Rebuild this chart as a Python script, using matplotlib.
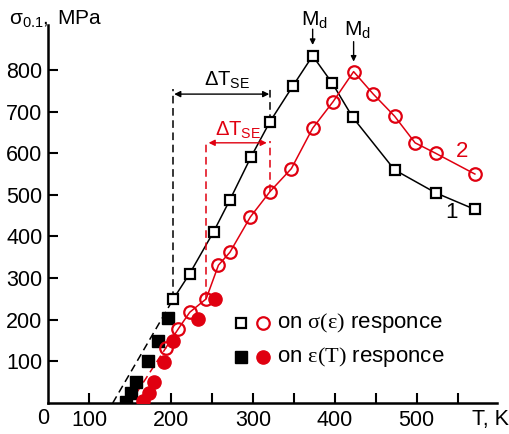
import matplotlib
matplotlib.use("Agg")
import matplotlib.pyplot as plt
from matplotlib.ticker import FixedLocator

plt.rcParams['font.family'] = ['Liberation Sans', 'DejaVu Sans']
plt.rcParams['mathtext.fontset'] = 'custom'
plt.rcParams['mathtext.rm'] = 'Liberation Serif'
plt.rcParams['mathtext.it'] = 'Liberation Serif:italic'
plt.rcParams['mathtext.sf'] = 'Liberation Sans'

RED = '#e00010'

# curve 1 (black open squares, sigma(eps) response)
T1 = [203, 223, 252, 272, 298, 321, 349, 373, 397, 422, 473, 523, 571]
s1 = [250, 311, 411, 488, 592, 676, 762, 834, 768, 686, 560, 505, 465]
# curve 2 (red open circles, sigma(eps) response)
T2 = [194, 209, 223, 243, 258, 272, 297, 321, 347, 373, 398, 423, 447, 473, 498, 523, 571]
s2 = [133, 178, 218, 250, 331, 362, 447, 508, 563, 660, 724, 796, 742, 689, 625, 600, 550]
# filled symbols (eps(T) response)
T1f = [145, 151, 157, 172, 184, 197]
s1f = [3, 23, 50, 101, 150, 205]
T2f = [166, 173, 179, 191, 203, 233, 254]
s2f = [5, 25, 50, 99, 150, 201, 250]
# extrapolated zero-stress temperatures
T0_1 = 129
T0_2 = 150
# Delta T_SE bounds
dT1 = [203, 321]
dT2 = [243, 321]

xticks_major = [100, 200, 300, 400, 500]
xtick_labels = ['100', '200', '300', '400', '500']
xticks_minor = [150, 250, 350, 450, 550]
yticks = [100, 200, 300, 400, 500, 600, 700, 800]

fig = plt.figure(figsize=(5.10, 4.34), dpi=100)
ax = fig.add_axes([48/510, 1-403/434, (497-48)/510, (403-25)/434])
ax.set_xlim(50, 598)
ax.set_ylim(0, 908)

for sp in ['top', 'right']:
    ax.spines[sp].set_visible(False)
for sp in ['left', 'bottom']:
    ax.spines[sp].set_linewidth(1.8)

ax.xaxis.set_major_locator(FixedLocator(xticks_major))
ax.set_xticklabels(xtick_labels)
ax.xaxis.set_minor_locator(FixedLocator(xticks_minor))
ax.set_yticks(yticks)
ax.set_yticklabels([str(v) for v in yticks])
ax.tick_params(which='both', direction='in', length=7, width=1.5, labelsize=15.5)
ax.tick_params(axis='x', pad=5)
ax.tick_params(axis='y', pad=4)

# extrapolation dashed lines
ax.plot([T0_1, T1[0]], [0, s1[0]], color='black', lw=1.1, ls=(0, (5, 3)), zorder=2)
ax.plot([T0_2, T2[0]], [0, s2[0]], color=RED, lw=1.1, ls=(0, (5, 3)), zorder=2)
# main curves
ax.plot(T1, s1, color='black', lw=1.1, zorder=2)
ax.plot(T2, s2, color=RED, lw=1.1, zorder=2)
ax.plot(T1, s1, ls='none', marker='s', ms=7, mfc='white', mec='black', mew=1.6, zorder=4)
ax.plot(T2, s2, ls='none', marker='o', ms=9, mfc='none', mec=RED, mew=1.6, zorder=4)
ax.plot(T1f, s1f, ls='none', marker='s', ms=8, mfc='black', mec='black', mew=1, zorder=3)
ax.plot(T2f, s2f, ls='none', marker='o', ms=9.5, mfc=RED, mec=RED, mew=1, zorder=3)

# Delta T_SE constructions
yb = 742
ax.plot([dT1[0], dT1[0]], [s1[0], 755], color='black', lw=1.1, ls=(0, (5, 3)))
ax.plot([dT1[1], dT1[1]], [s1[5], 755], color='black', lw=1.1, ls=(0, (5, 3)))
ax.annotate('', xy=(dT1[0] + 1, yb), xytext=(dT1[1] - 1, yb),
            arrowprops=dict(arrowstyle='<|-|>', color='black', lw=1.0,
                            mutation_scale=9, shrinkA=0, shrinkB=0))
ax.text(268, 776, r'$\mathsf{\Delta T_{SE}}$', fontsize=14.5, ha='center', va='center')

yr = 625
ax.plot([dT2[0], dT2[0]], [s2[3], 630], color=RED, lw=1.1, ls=(0, (5, 3)))
ax.plot([dT2[1], dT2[1]], [s2[7], 630], color=RED, lw=1.1, ls=(0, (5, 3)))
ax.annotate('', xy=(dT2[0] + 3, yr), xytext=(dT2[1] - 4, yr),
            arrowprops=dict(arrowstyle='<|-|>', color=RED, lw=1.0,
                            mutation_scale=9, shrinkA=0, shrinkB=0))
ax.text(282, 656, r'$\mathsf{\Delta T_{SE}}$', fontsize=14.5, ha='center', va='center', color=RED)

# Md markers
ax.annotate('', xy=(373, 860), xytext=(373, 898),
            arrowprops=dict(arrowstyle='-|>', color='black', lw=1.0, mutation_scale=8,
                            shrinkA=0, shrinkB=0), annotation_clip=False)
ax.text(375, 918, r'$\mathsf{M_d}$', fontsize=15, ha='center', va='center', clip_on=False)
ax.annotate('', xy=(423, 820), xytext=(423, 868),
            arrowprops=dict(arrowstyle='-|>', color='black', lw=1.0, mutation_scale=8,
                            shrinkA=0, shrinkB=0), annotation_clip=False)
ax.text(428, 895, r'$\mathsf{M_d}$', fontsize=15, ha='center', va='center', clip_on=False)

# curve numbers
ax.text(555, 605, '2', fontsize=16, color=RED, ha='center', va='center')
ax.text(542, 458, '1', fontsize=16, color='black', ha='center', va='center')

# legend (drawn manually)
ax.plot([285], [192], ls='none', marker='s', ms=7, mfc='white', mec='black', mew=1.6, clip_on=False)
ax.plot([313], [192], ls='none', marker='o', ms=9, mfc='none', mec=RED, mew=1.6, clip_on=False)
ax.plot([285], [110], ls='none', marker='s', ms=8, mfc='black', mec='black', clip_on=False)
ax.plot([313], [110], ls='none', marker='o', ms=9.5, mfc=RED, mec=RED, clip_on=False)
ax.text(330, 192, r'on $\mathrm{\sigma(\varepsilon)}$ responce', fontsize=16, ha='left', va='center')
ax.text(330, 110, r'on $\mathrm{\varepsilon(T)}$ responce', fontsize=16, ha='left', va='center')

# axis labels
fig.text(9/510, 1-25/434, r'$\mathsf{\sigma_{0.1},}$ MPa', fontsize=15, ha='left', va='baseline', zorder=5)
fig.text(43/510, 1-419/434, '0', fontsize=15.5, ha='center', va='center')
fig.text(490/510, 1-419/434, 'T, K', fontsize=15.5, ha='center', va='center')

fig.savefig('out.png', dpi=100)
